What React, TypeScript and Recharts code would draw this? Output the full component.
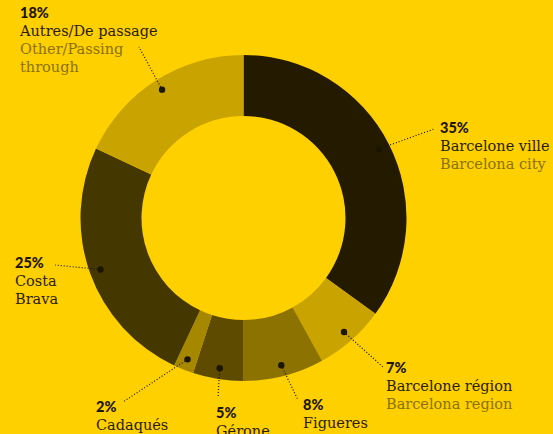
import { PieChart, Pie, Cell } from "recharts";

const names = ["Barcelone ville", "Barcelone région", "Figueres", "Gérone", "Cadaqués", "Costa Brava", "Autres"];
const shares = [35, 7, 8, 5, 2, 25, 18];
const frLines = [["Barcelone ville"], ["Barcelone région"], ["Figueres"], ["Gérone"], ["Cadaqués"], ["Costa", "Brava"], ["Autres/De passage"]];
const enLines = [["Barcelona city"], ["Barcelona region"], [], [], [], [], ["Other/Passing", "through"]];

const sliceColors = ["#241a00", "#c9a300", "#8c7200", "#5e4b00", "#a68700", "#443800", "#c9a300"];

// where each label block sits and where its leader line stops
const labelLayout = [
  { tx: 440, ty: 133, lx: 434, ly: 129 },
  { tx: 386, ty: 373, lx: 383, ly: 367 },
  { tx: 303, ty: 410, lx: 298, ly: 400 },
  { tx: 216, ty: 418, lx: 218, ly: 398 },
  { tx: 96, ty: 412, lx: 123, ly: 402 },
  { tx: 15, ty: 268, lx: 55, ly: 265 },
  { tx: 20, ty: 18, lx: 139, ly: 47 },
];

const data = names.map((name, i) => ({ name, value: shares[i] }));

const RAD = Math.PI / 180;

function renderLabel(props: any) {
  const { cx, cy, midAngle, outerRadius, index } = props;
  const r = outerRadius - 11;
  const dx = cx + r * Math.cos(-midAngle * RAD);
  const dy = cy + r * Math.sin(-midAngle * RAD);
  const pos = labelLayout[index];
  const lines = [
    ...frLines[index].map((t) => ({ t, c: "#2a2000" })),
    ...enLines[index].map((t) => ({ t, c: "#8a7100" })),
  ];
  return (
    <g key={`lbl-${index}`}>
      <line x1={dx} y1={dy} x2={pos.lx} y2={pos.ly} stroke="#1c1500" strokeWidth={1.2} strokeDasharray="1 2" />
      <circle cx={dx} cy={dy} r={3.2} fill="#1c1500" />
      <text x={pos.tx} y={pos.ty} fill="#1c1500" fontFamily="Lato" fontWeight={900} fontSize={14.5}>
        {shares[index]}%
      </text>
      {lines.map((l, j) => (
        <text key={j} x={pos.tx} y={pos.ty + 18 * (j + 1)} fill={l.c} fontFamily="DejaVu Serif" fontSize={14.5}>
          {l.t}
        </text>
      ))}
    </g>
  );
}

export default function App() {
  return (
    <div style={{ position: "absolute", left: 0, top: 0, width: 553, height: 434, background: "#ffd000", overflow: "hidden" }}>
      <PieChart width={553} height={434} margin={{ top: 0, right: 0, bottom: 0, left: 0 }}>
        <Pie
          data={data}
          dataKey="value"
          cx={243.5}
          cy={218}
          innerRadius={102}
          outerRadius={163}
          startAngle={90}
          endAngle={-270}
          stroke="none"
          label={renderLabel}
          labelLine={false}
          isAnimationActive={false}
        >
          {data.map((_, i) => (
            <Cell key={i} fill={sliceColors[i]} />
          ))}
        </Pie>
      </PieChart>
    </div>
  );
}
